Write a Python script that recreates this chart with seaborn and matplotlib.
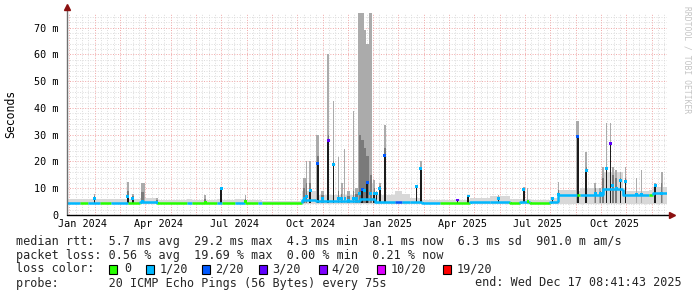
import numpy as np
import pandas as pd
import matplotlib
matplotlib.use("Agg")
import matplotlib.pyplot as plt
import matplotlib.dates as mdates
from matplotlib.patches import Rectangle
from matplotlib.collections import LineCollection
import seaborn as sns

# ---------------- data ----------------
loss_labels = ["0", "1/20", "2/20", "3/20", "4/20", "10/20", "19/20"]
loss_colors = ["#26ff00", "#00b8ff", "#0059ff", "#5e00ff", "#7e00ff", "#dd00ff", "#ff0000"]

# baseline median (ms) segments, loss level index, top of light smoke (ms)
seg_start = ["2023-12-13", "2023-12-28", "2024-01-07", "2024-01-21", "2024-02-04",
             "2024-02-24", "2024-03-09", "2024-03-30", "2024-05-05", "2024-05-11",
             "2024-06-10", "2024-06-16", "2024-07-02", "2024-07-14", "2024-07-29",
             "2024-08-03", "2024-09-20", "2024-10-07", "2024-11-29", "2024-12-17",
             "2025-01-10", "2025-01-18", "2025-01-28", "2025-02-11", "2025-03-05",
             "2025-04-10", "2025-05-04", "2025-05-28", "2025-06-09", "2025-06-21",
             "2025-07-15", "2025-07-25", "2025-08-17", "2025-08-21", "2025-09-17",
             "2025-10-11", "2025-11-12", "2025-11-16"]
seg_median = [4.5, 4.4, 4.5, 4.4, 4.5, 4.4, 4.8, 4.4, 4.6, 4.4,
              4.6, 4.4, 4.6, 4.4, 4.6, 4.4, 5.5, 5.2, 6.0, 5.0,
              4.8, 4.9, 4.8, 4.6, 4.5, 4.8, 4.7, 4.5, 4.7, 4.5,
              5.0, 7.5, 7.3, 7.4, 9.8, 7.4, 7.3, 8.1]
seg_loss = [1, 0, 1, 0, 1, 0, 1, 0, 1, 0,
            1, 0, 1, 0, 1, 0, 1, 1, 1, 1,
            2, 1, 1, 1, 0, 1, 1, 0, 1, 0,
            1, 1, 0, 1, 1, 1, 0, 1]
seg_smoke = [6.0, 6.0, 6.0, 6.0, 6.0, 5.9, 6.3, 5.6, 5.8, 5.7,
             5.8, 5.6, 5.8, 5.6, 5.6, 5.4, 9.0, 7.5, 12.0, 7.5,
             9.0, 8.0, 6.5, 5.6, 5.5, 6.5, 7.0, 5.8, 6.0, 5.6,
             6.5, 9.5, 9.0, 10.0, 16.0, 9.0, 9.5, 10.5]
data_end = "2025-12-03"

# spikes: date, median (ms), dense smoke top (ms), max smoke (ms), dark core, loss level, duration (days)
spike_date = ["2024-01-15", "2024-02-24", "2024-03-01", "2024-03-13", "2024-03-30",
              "2024-05-27", "2024-06-15", "2024-07-14", "2024-09-23", "2024-09-26",
              "2024-09-30", "2024-10-09", "2024-10-15", "2024-10-22", "2024-10-28",
              "2024-11-03", "2024-11-07", "2024-11-11", "2024-11-15", "2024-11-21",
              "2024-11-25", "2024-11-29", "2024-12-02", "2024-12-05", "2024-12-08",
              "2024-12-12", "2024-12-16", "2024-12-19", "2024-12-23", "2024-12-29",
              "2025-02-05", "2025-02-10", "2025-03-26", "2025-04-08", "2025-05-14",
              "2025-06-14", "2025-06-19", "2025-07-19", "2025-07-26", "2025-08-18",
              "2025-08-28", "2025-09-08", "2025-09-14", "2025-09-17", "2025-09-21",
              "2025-09-26", "2025-09-29", "2025-10-03", "2025-10-08", "2025-10-14",
              "2025-10-28", "2025-11-03", "2025-11-19", "2025-11-27"]
spike_median = [6.0, 7.0, 6.3, 5.0, 4.8, 4.5, 10.0, 5.2, 6.0, 7.0,
                9.3, 19.1, 6.0, 28.0, 18.7, 6.0, 6.0, 6.0, 5.5, 6.0,
                6.0, 8.0, 9.7, 9.0, 12.0, 8.0, 8.2, 8.0, 10.0, 22.4,
                10.5, 17.5, 5.6, 7.1, 6.0, 9.5, 5.0, 6.0, 7.5, 29.3,
                16.8, 8.0, 8.0, 8.0, 17.5, 26.9, 11.0, 10.0, 13.0, 12.5,
                7.5, 7.5, 11.2, 8.0]
spike_mid = [7.0, 9.0, 7.0, 8.5, 5.5, 6.0, 10.0, 6.0, 10.0, 12.0,
             12.0, 22.0, 7.5, 30.0, 20.0, 9.0, 8.0, 9.0, 7.0, 9.0,
             8.0, 30.0, 28.0, 25.0, 22.0, 15.0, 10.0, 8.5, 11.0, 25.0,
             10.5, 18.0, 5.8, 7.3, 6.5, 10.0, 7.0, 6.2, 9.5, 30.0,
             18.0, 10.0, 9.0, 14.0, 18.0, 27.0, 15.0, 14.0, 14.0, 14.0,
             10.0, 11.0, 11.5, 12.0]
spike_top = [8.0, 12.3, 8.0, 12.0, 6.5, 7.3, 10.4, 7.3, 14.0, 20.0,
             20.0, 30.0, 9.0, 60.0, 42.6, 21.8, 12.0, 24.5, 9.0, 39.0,
             10.0, 75.5, 75.5, 69.0, 64.0, 75.5, 13.0, 9.0, 12.0, 33.6,
             11.0, 20.0, 6.0, 7.5, 7.5, 10.5, 10.0, 6.5, 12.3, 35.0,
             23.7, 12.0, 10.0, 18.0, 34.3, 34.3, 18.0, 17.0, 16.0, 18.0,
             13.7, 17.0, 12.0, 16.0]
spike_dark = [1, 1, 1, 0, 0, 0, 1, 1, 0, 0,
              1, 1, 0, 1, 1, 0, 0, 0, 0, 0,
              0, 0, 1, 0, 1, 0, 1, 1, 1, 1,
              1, 1, 1, 1, 1, 1, 0, 1, 0, 1,
              1, 0, 0, 0, 1, 1, 0, 0, 1, 1,
              0, 0, 1, 0]
spike_loss = [1, 1, 1, 1, 1, 0, 1, 0, 1, 1,
              1, 2, 1, 3, 1, 1, 1, 1, 1, 1,
              1, 1, 2, 1, 2, 1, 1, 1, 1, 2,
              1, 1, 3, 1, 1, 1, 0, 1, 1, 2,
              1, 1, 1, 1, 1, 3, 1, 1, 1, 1,
              1, 1, 1, 1]
spike_days = [1.8, 1.8, 1.8, 4.8, 2.4, 2.4, 1.8, 1.2, 3.6, 1.8,
              1.8, 3.0, 3.6, 2.4, 1.8, 1.2, 2.4, 1.2, 3.6, 1.2,
              3.6, 3.6, 3.6, 3.6, 3.6, 3.6, 1.8, 1.2, 1.8, 2.4,
              1.8, 2.4, 1.2, 1.8, 1.2, 1.8, 1.2, 1.2, 1.2, 3.6,
              1.8, 2.4, 2.4, 2.4, 1.2, 1.8, 2.4, 2.4, 1.8, 1.8,
              1.2, 1.2, 1.8, 1.8]

x_tick_dates = ["2024-01-01", "2024-04-01", "2024-07-01", "2024-10-01",
                "2025-01-01", "2025-04-01", "2025-07-01", "2025-10-01"]
x_tick_labels = ["Jan 2024", "Apr 2024", "Jul 2024", "Oct 2024",
                 "Jan 2025", "Apr 2025", "Jul 2025", "Oct 2025"]
y_tick_values = [0, 10, 20, 30, 40, 50, 60, 70]
y_tick_labels = ["0", "10 m", "20 m", "30 m", "40 m", "50 m", "60 m", "70 m"]

y_axis_label = "Seconds"
stat_rtt = "median rtt:  5.7 ms avg  29.2 ms max  4.3 ms min  8.1 ms now  6.3 ms sd  901.0 m am/s"
stat_loss = "packet loss: 0.56 % avg  19.69 % max  0.00 % min  0.21 % now"
loss_color_title = "loss color:"
probe_text = "probe:       20 ICMP Echo Pings (56 Bytes) every 75s"
end_text = "end: Wed Dec 17 08:41:43 2025"
watermark = "RRDTOOL / TOBI OETIKER"

# ---------------- drawing ----------------
sns.set_theme(style="white")
plt.rcParams["font.family"] = ["DejaVu Sans Mono", "DejaVu Sans"]
MONO = ["DejaVu Sans Mono", "DejaVu Sans"]

W, H = 697, 297
fig = plt.figure(figsize=(W / 100, H / 100), dpi=100)
fig.patch.set_facecolor("white")
ax = fig.add_axes([67 / W, (H - 215) / H, 600 / W, 202 / H])
ax.set_facecolor("white")

DPP = 1.2023  # days per pixel
x_left = mdates.date2num(pd.Timestamp("2024-01-01")) - 16 * DPP
x_right = x_left + 600 * DPP
ax.set_xlim(x_left, x_right)
ax.set_ylim(0, 75.5)

# grid
dot = (0, (1.0, 1.6))
for v in np.arange(2, 75, 2):
    if v % 10 == 0:
        continue
    ax.axhline(v, color="#dcdcdc", lw=0.7, ls=dot, zorder=0)
major_step = 25.32 * DPP
first_major = x_left + 2.3 * DPP
for k in range(24):
    xm = first_major + k * major_step
    for j in (1, 2, 3):
        xn = xm + j * major_step / 4
        if xn < x_right:
            ax.axvline(xn, color="#dcdcdc", lw=0.7, ls=dot, zorder=0)
for v in range(10, 75, 10):
    ax.axhline(v, color="#f0a8a8", lw=0.7, ls=dot, zorder=0.5)
for k in range(24):
    xm = first_major + k * major_step
    if xm < x_right:
        ax.axvline(xm, color="#f0a8a8", lw=0.7, ls=dot, zorder=0.5)

# baseline smoke
s_x = mdates.date2num(pd.to_datetime(seg_start + [data_end]))
for i in range(len(seg_median)):
    ax.fill_between([s_x[i], s_x[i + 1]], 4.1, seg_smoke[i], color="#d8d8d8", lw=0, zorder=1)

# spikes smoke
sp_x = mdates.date2num(pd.to_datetime(spike_date))
sp_w = np.array(spike_days)
base = 4.3
ax.bar(sp_x, np.array(spike_top) - base, bottom=base, width=sp_w, color="#ababab", lw=0, zorder=2)
ax.bar(sp_x, np.array(spike_mid) - base, bottom=base, width=sp_w * 0.8, color="#7a7a7a", lw=0, zorder=2.2)
dark_mask = np.array(spike_dark) == 1
ax.bar(sp_x[dark_mask], np.array(spike_median)[dark_mask] - base, bottom=base,
       width=np.minimum(sp_w[dark_mask], 2.4), color="#1c1c1c", lw=0, zorder=2.5)

# median line (step, coloured by loss)
segs, cols = [], []
prev = seg_median[0]
for i in range(len(seg_median)):
    segs.append([(s_x[i], prev), (s_x[i], seg_median[i]), (s_x[i + 1], seg_median[i])])
    cols.append(loss_colors[seg_loss[i]])
    prev = seg_median[i]
ax.add_collection(LineCollection(segs, colors=cols, linewidths=1.8, zorder=3, capstyle="butt"))

# spike medians
spk = pd.DataFrame({"x": sp_x, "median": spike_median,
                    "loss": [loss_labels[l] for l in spike_loss]})
sns.scatterplot(data=spk, x="x", y="median", hue="loss",
                palette=dict(zip(loss_labels, loss_colors)), marker="s", s=4.5,
                linewidth=0, legend=False, ax=ax, zorder=4)
ax.set_xlabel("")
ax.set_ylabel("")

# ticks
ax.set_xticks(mdates.date2num(pd.to_datetime(x_tick_dates)))
ax.set_xticklabels(x_tick_labels, fontsize=7.3, family=MONO)
ax.set_yticks(y_tick_values)
ax.set_yticklabels(y_tick_labels, fontsize=7.3, family=MONO)
ax.tick_params(axis="x", length=0, pad=3.2, colors="black")
ax.tick_params(axis="y", length=2, width=0.7, color="#808080", pad=3.8, colors="black")
ax.yaxis.set_tick_params(color="#808080")
ax.set_yticks(np.arange(2, 75, 2), minor=True)
ax.tick_params(axis="y", which="minor", length=1.5, width=0.6, color="#a0a0a0")
for sp in ax.spines.values():
    sp.set_visible(False)

# axes lines with arrows
ax.plot([0, 0], [0, 1.02], transform=ax.transAxes, color="#707070", lw=1.0, clip_on=False, zorder=6)
ax.plot([0, 1.005], [0, 0], transform=ax.transAxes, color="black", lw=1.0, clip_on=False, zorder=6)
ax.plot([0], [1.03], transform=ax.transAxes, marker="^", ms=4.5, color="#8b1010", clip_on=False, zorder=7)
ax.plot([1.008], [0], transform=ax.transAxes, marker=">", ms=4.5, color="#8b1010", clip_on=False, zorder=7)

# labels & texts
def fy(y):
    return 1 - y / H

fig.text(10.5 / W, fy(114), y_axis_label, rotation=90, ha="center", va="center",
         fontsize=8.3, family=MONO, color="black")
fig.text(687.5 / W, fy(60), watermark, rotation=-90, ha="center", va="center",
         fontsize=5.8, family=MONO, color="#c4c4c4")

LF = 8.5
fig.text(16 / W, fy(241), stat_rtt, ha="left", va="center", fontsize=LF, family=MONO)
fig.text(16 / W, fy(255), stat_loss, ha="left", va="center", fontsize=LF, family=MONO)
fig.text(16 / W, fy(269), loss_color_title, ha="left", va="center", fontsize=LF, family=MONO)
fig.text(16 / W, fy(283), probe_text, ha="left", va="center", fontsize=LF, family=MONO)
fig.text(682 / W, fy(283), end_text, ha="right", va="center", fontsize=LF, family=MONO)

sq_x = [108.5, 145.5, 202, 259, 319, 377, 442.5]
lab_x = [123.8, 159.5, 215, 271.8, 331, 391, 456.7]
for i in range(len(loss_labels)):
    fig.add_artist(Rectangle((sq_x[i] / W, fy(273.5)), 8 / W, 8.5 / H, transform=fig.transFigure,
                             facecolor=loss_colors[i], edgecolor="black", lw=0.8))
    fig.text(lab_x[i] / W, fy(269), loss_labels[i], ha="left", va="center", fontsize=LF, family=MONO)

fig.savefig("out.png", dpi=100, facecolor="white")
